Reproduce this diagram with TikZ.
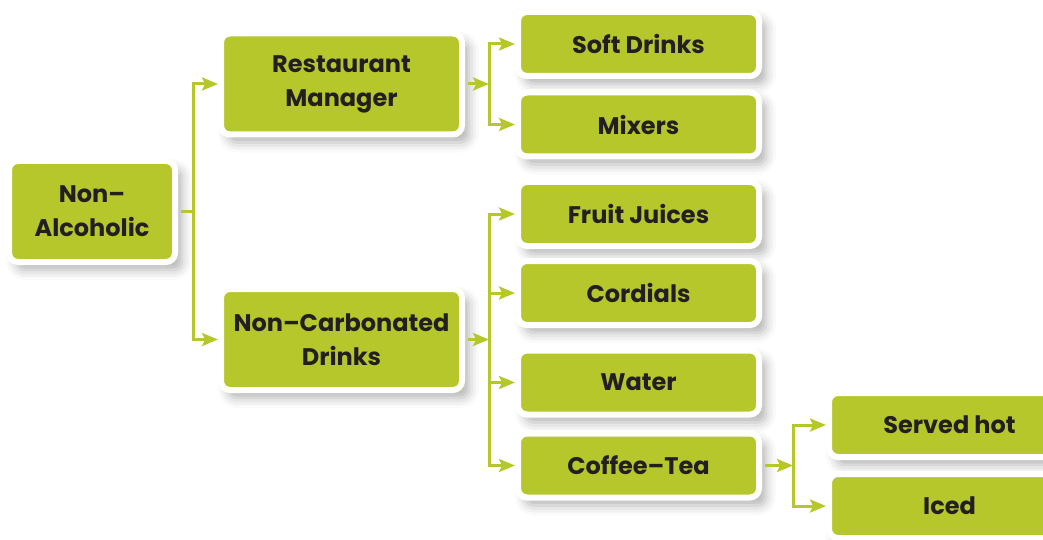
\documentclass[tikz,border=0pt]{standalone}
\usepackage{fontspec}
\setmainfont{Poppins}
\usetikzlibrary{arrows.meta,shadows.blur}

\definecolor{Leaf}{HTML}{B5C72A}
\definecolor{Ink}{HTML}{231F20}

\begin{document}
\begin{tikzpicture}[x=1pt, y=-1pt,
  box/.style={fill=Leaf, draw=white, line width=6pt, rounded corners=9pt,
    blur shadow={shadow xshift=7pt, shadow yshift=-8pt, shadow blur radius=10pt, shadow opacity=30},
    text=Ink, align=center, inner sep=0pt,
    font=\bfseries\fontsize{24}{34}\selectfont},
  bigbox/.style={box, minimum width=241pt, minimum height=101pt},
  smallbox/.style={box, minimum width=241pt, minimum height=64pt},
  link/.style={line width=3pt, color=Leaf},
  leave/.style={shorten <=3pt},
  arrow/.style={link, -{Stealth[length=16pt, width=13pt, inset=3pt]}}]

 \useasboundingbox (0,0) rectangle (1043,540);

 %%%%%%%%%% Junctions %%%%%%%%%%
 \coordinate (aj) at (193,211.5);
 \coordinate (rj) at (489,84);
 \coordinate (cj) at (489,339.5);
 \coordinate (tj) at (793,465.5);

 %%%%%%%%%% Boxes %%%%%%%%%%
 \node[box, minimum width=166pt, minimum height=101pt] (nonalc) at (92,211.5) {Non--\\Alcoholic};

 \node[bigbox] (restaurant) at (341.5,84) {Restaurant\\Manager};
 \node[bigbox] (noncarb) at (341.5,339.5) {Non--Carbonated\\Drinks};

 \node[smallbox] (soft) at (638.5,44) {Soft Drinks};
 \node[smallbox] (mixers) at (638.5,124.5) {Mixers};
 \node[smallbox] (fruit) at (638.5,214) {Fruit Juices};
 \node[smallbox] (cordials) at (638.5,293) {Cordials};
 \node[smallbox] (water) at (638.5,382.5) {Water};
 \node[smallbox] (coffee) at (638.5,465.5) {Coffee--Tea};

 \node[smallbox] (servedhot) at (949.5,425) {Served hot};
 \node[smallbox] (iced) at (949.5,506) {Iced};

 %%%%%%%%%% Connectors %%%%%%%%%%
 \draw [link, leave] (nonalc.east) -- (aj);
 \draw [arrow] (aj) |- (restaurant.west);
 \draw [arrow] (aj) |- (noncarb.west);

 \draw [arrow, leave] (restaurant.east) -- (rj);
 \draw [arrow] (rj) |- (soft.west);
 \draw [arrow] (rj) |- (mixers.west);

 \draw [arrow, leave] (noncarb.east) -- (cj);
 \foreach \n in {fruit,cordials,water,coffee}
 {
   \draw [arrow] (cj) |- (\n.west);
 }

 \draw [arrow, leave] (coffee.east) -- (tj);
 \draw [arrow] (tj) |- (servedhot.west);
 \draw [arrow] (tj) |- (iced.west);

\end{tikzpicture}
\end{document}
